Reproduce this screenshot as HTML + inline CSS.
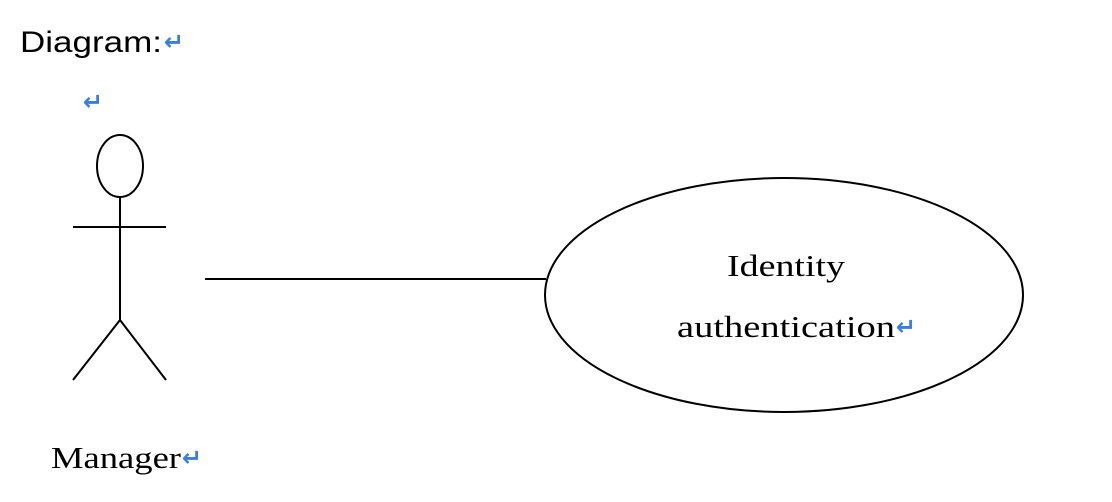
<!DOCTYPE html>
<html><head><meta charset="utf-8"><style>
html,body{margin:0;padding:0;background:#fff;}
body{width:1112px;height:502px;overflow:hidden;position:relative;}
</style></head><body>
<svg width="1112" height="502" xmlns="http://www.w3.org/2000/svg" style="position:absolute;left:0;top:0">
<text x="20" y="52" font-family="Liberation Sans, sans-serif" font-size="30" fill="#000" textLength="142" lengthAdjust="spacingAndGlyphs">Diagram:</text>
<text x="164" y="50" font-family="DejaVu Sans, sans-serif" font-size="24" font-weight="bold" fill="#3a7fe0">↵</text>
<text x="83" y="110" font-family="DejaVu Sans, sans-serif" font-size="24" font-weight="bold" fill="#3a7fe0">↵</text>
<g stroke="#000" stroke-width="2" fill="none">
<ellipse cx="120" cy="166" rx="23" ry="31"/>
<line x1="120" y1="197" x2="120" y2="320"/>
<line x1="73" y1="227" x2="166" y2="227"/>
<line x1="120" y1="320" x2="73" y2="380"/>
<line x1="120" y1="320" x2="166" y2="380"/>
<line x1="205" y1="279" x2="546" y2="279"/>
<ellipse cx="784" cy="295" rx="239" ry="117"/>
</g>
<text x="727" y="276" font-family="Liberation Serif, serif" font-size="31" fill="#000" textLength="118" lengthAdjust="spacingAndGlyphs">Identity</text>
<text x="677" y="337" font-family="Liberation Serif, serif" font-size="31" fill="#000" textLength="218" lengthAdjust="spacingAndGlyphs">authentication</text>
<text x="896" y="335" font-family="DejaVu Sans, sans-serif" font-size="24" font-weight="bold" fill="#3a7fe0">↵</text>
<text x="51" y="468" font-family="Liberation Serif, serif" font-size="31" fill="#000" textLength="130" lengthAdjust="spacingAndGlyphs">Manager</text>
<text x="182" y="466" font-family="DejaVu Sans, sans-serif" font-size="24" font-weight="bold" fill="#3a7fe0">↵</text>
</svg>
</body></html>
